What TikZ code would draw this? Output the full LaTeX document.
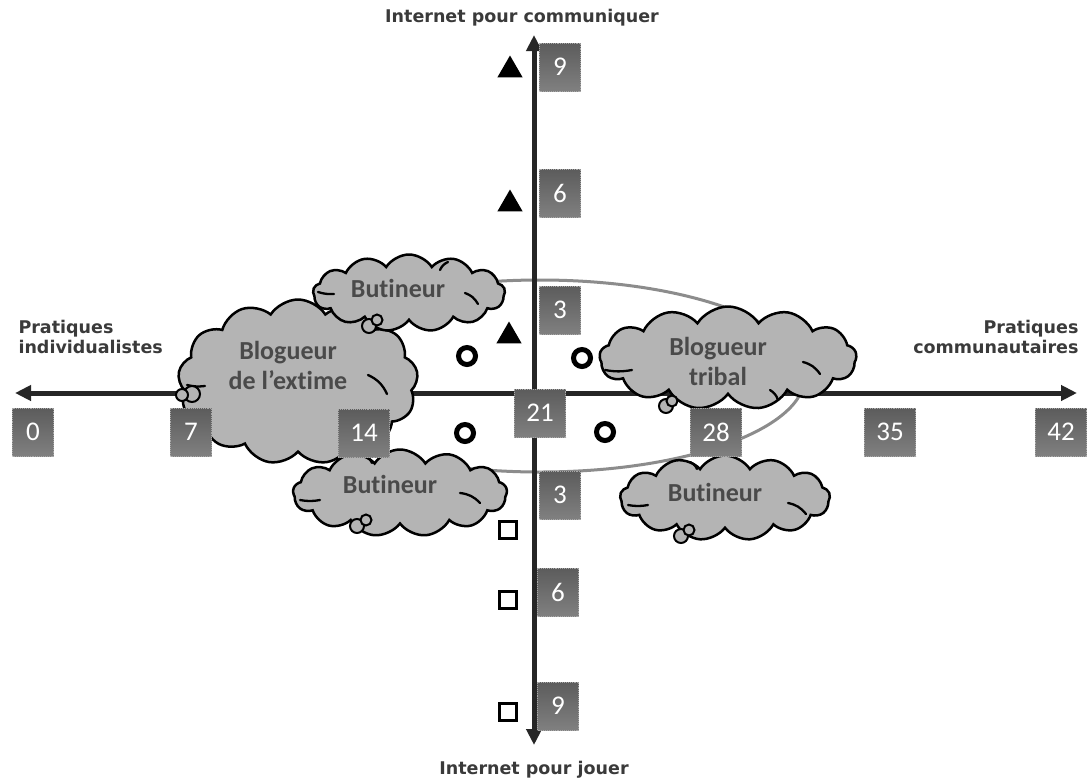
\documentclass[tikz,border=0pt]{standalone}
\usepackage{fontspec}
\setmainfont{Carlito}[Ligatures={NoCommon}]
\newfontfamily\axisfont{DejaVu Sans}
\usetikzlibrary{shapes.symbols,shapes.geometric,arrows.meta}
\definecolor{axiscol}{HTML}{262626}
\definecolor{ellgrey}{HTML}{8C8C8C}
\definecolor{cloudfill}{HTML}{B4B4B4}
\definecolor{cloudtxt}{HTML}{4A4A4A}
\definecolor{labeltxt}{HTML}{3A3A3A}
\definecolor{boxtop}{HTML}{5C5C5C}
\definecolor{boxbot}{HTML}{808080}
\definecolor{boxedge}{HTML}{A8A8A8}
\begin{document}
\begin{tikzpicture}[x=1pt,y=-1pt,
  axisline/.style={line width=5pt, draw=axiscol, {Triangle[length=16pt,width=15pt]}-{Triangle[length=16pt,width=15pt]}},
  numbox/.style={rectangle, top color=boxtop, bottom color=boxbot, draw=boxedge, densely dotted, line width=0.9pt, minimum width=41pt, minimum height=48pt, inner xsep=12pt, text=white, font=\fontsize{27}{27}\selectfont},
  cloudbox/.style={cloud, cloud puffs=13, cloud puff arc=115, cloud ignores aspect, fill=cloudfill, draw=black, line width=2.5pt, inner sep=0pt},
  curl/.style={draw=black, line width=2.3pt, line cap=round},
  cloudlabel/.style={text=cloudtxt, font=\bfseries\fontsize{26}{30}\selectfont, align=center},
  axislabel/.style={text=labeltxt, font=\axisfont\bfseries\fontsize{17.5}{20}\selectfont},
  tri/.style={regular polygon, regular polygon sides=3, fill=black, minimum size=29pt, inner sep=0pt},
  ring/.style={circle, draw=black, line width=5pt, minimum size=17pt, inner sep=0pt},
  sq/.style={rectangle, draw=black, line width=2.2pt, minimum size=17pt, inner sep=0pt, fill=white},
  bub/.style={circle, draw=black, line width=2pt, fill=cloudfill, inner sep=0pt}
]
\fill[white] (0,0) rectangle (1087,782);
\useasboundingbox (0,0) rectangle (1087,782);

% grey ellipse
\draw[ellgrey, line width=3pt] (540,376) ellipse [x radius=265, y radius=96];

% axes
\coordinate (hl) at (15,393);
\coordinate (hr) at (1077,393);
\coordinate (vt) at (534,35);
\coordinate (vb) at (534,745);
\draw[axisline] (hl) -- (hr);
\draw[axisline] (vb) -- (vt);

% clouds
\node[cloudbox, minimum width=240pt, minimum height=165pt] (cext) at (298,382) {};
\draw[curl] (187,385) to[bend right=10] (205,386);
\draw[curl] (368,375) to[bend left=20] (387,394);

\node[cloudbox, minimum width=192pt, minimum height=77pt] (cbt) at (409,293) {};
\draw[curl] (318,292) to[bend right=10] (334,294);
\draw[curl] (465,293) to[bend left=20] (478,304);
\draw[curl] (440,270) to[bend left=20] (448,262);

\node[cloudbox, minimum width=214pt, minimum height=87pt] (cbl) at (400,493) {};
\draw[curl] (300,500) to[bend right=10] (320,500);
\draw[curl] (460,493) to[bend left=20] (480,503);
\draw[curl] (365,456) to[bend left=20] (372,463);

\node[cloudbox, minimum width=257pt, minimum height=103pt] (ctr) at (728,358) {};
\draw[curl] (605,370) to[bend right=10] (632,370);
\draw[curl] (803,362) to[bend left=20] (820,374);
\draw[curl] (770,390) to[bend left=20] (778,400);

\node[cloudbox, minimum width=210pt, minimum height=85pt] (cbr) at (725,498) {};
\draw[curl] (628,505) to[bend right=10] (648,505);
\draw[curl] (788,503) to[bend left=20] (806,514);
\draw[curl] (690,462) to[bend left=20] (697,469);

% thought bubbles
\node[bub, minimum size=14pt] (b1a) at (369,326) {};
\node[bub, minimum size=11pt] (b1b) at (377,320) {};
\node[bub, minimum size=16pt] (b2a) at (192,394) {};
\node[bub, minimum size=12pt] (b2b) at (182,395) {};
\node[bub, minimum size=14pt] (b3a) at (666,406) {};
\node[bub, minimum size=11pt] (b3b) at (672,401) {};
\node[bub, minimum size=14pt] (b4a) at (357,526) {};
\node[bub, minimum size=11pt] (b4b) at (366,520) {};
\node[bub, minimum size=14pt] (b5a) at (681,536) {};
\node[bub, minimum size=11pt] (b5b) at (689,530) {};

% cloud texts
\node[cloudlabel] (tbt) at (398,288) {Butineur};
\node[cloudlabel] (text) at (288,365) {Blogueur\\de l’extime};
\node[cloudlabel] (tbl) at (390,484) {Butineur};
\node[cloudlabel] (ttr) at (718,361) {Blogueur\\tribal};
\node[cloudlabel] (tbr) at (715,492) {Butineur};

% number boxes
\node[numbox] (n0) at (33,432) {0};
\node[numbox] (n7) at (191,432) {7};
\node[numbox] (n14) at (364,433) {14};
\node[numbox] (n21) at (540,413) {21};
\node[numbox] (n28) at (716,432) {28};
\node[numbox] (n35) at (890,432) {35};
\node[numbox] (n42) at (1061,432) {42};
\node[numbox] (v9a) at (560,67) {9};
\node[numbox] (v6a) at (560,193) {6};
\node[numbox] (v3a) at (560,310) {3};
\node[numbox] (v3b) at (560,495) {3};
\node[numbox] (v6b) at (558,592) {6};
\node[numbox] (v9b) at (558,706) {9};

% markers
\node[tri] (t1) at (510,70) {};
\node[tri] (t2) at (510,204) {};
\node[tri] (t3) at (509,336) {};
\node[sq] (s1) at (508,530) {};
\node[sq] (s2) at (508,600) {};
\node[sq] (s3) at (508,712) {};
\node[ring] (r1) at (467,356) {};
\node[ring] (r2) at (582,358) {};
\node[ring] (r3) at (465,433) {};
\node[ring] (r4) at (605,432) {};

% axis labels
\node[axislabel] (lt) at (522,18) {Internet pour communiquer};
\node[axislabel] (lb) at (534,770) {Internet pour jouer};
\node[axislabel, align=left, anchor=west] (ll) at (15,337) {Pratiques\\individualistes};
\node[axislabel, align=right, anchor=east] (lr) at (1082,337) {Pratiques\\communautaires};
\end{tikzpicture}
\end{document}
